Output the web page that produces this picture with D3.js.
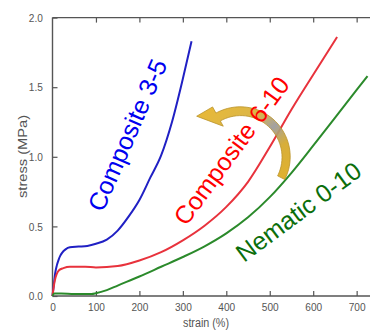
<!DOCTYPE html>
<html>
<head>
<meta charset="utf-8">
<script src="https://cdn.jsdelivr.net/npm/d3@7"></script>
<style>
  body { margin: 0; background: #fff; }
  svg { display: block; }
</style>
</head>
<body>
<script>
// strain (%) , stress (MPa)
const composite35 = [[0,0],[3,0.08],[6,0.16],[10,0.22],[14,0.26],[18,0.29],[22,0.31],[30,0.335],[40,0.35],[60,0.355],[80,0.36],[100,0.375],[125,0.405],[150,0.47],[175,0.57],[200,0.69],[225,0.85],[250,1.01],[275,1.25],[300,1.56],[320,1.83]];
const composite610 = [[0,0],[3,0.07],[6,0.12],[10,0.16],[15,0.185],[25,0.2],[40,0.21],[75,0.21],[100,0.205],[150,0.215],[200,0.255],[250,0.315],[300,0.40],[350,0.505],[400,0.64],[450,0.82],[500,1.07],[550,1.34],[600,1.59],[655,1.86]];
const nematic010 = [[0,0],[4,0.018],[20,0.018],[50,0.015],[90,0.015],[100,0.02],[125,0.042],[150,0.075],[200,0.14],[250,0.21],[300,0.28],[350,0.357],[400,0.45],[450,0.565],[500,0.71],[550,0.885],[600,1.08],[650,1.28],[700,1.48],[725,1.58]];

const xTicks = [0, 100, 200, 300, 400, 500, 600, 700];
const yTicks = [0, 0.5, 1.0, 1.5, 2.0];

const series = [
  { name: "Composite 3-5", data: composite35, line: "#2020c4", text: "#0000f0", at: [116, 0.596], angle: -66.5 },
  { name: "Composite 6-10", data: composite610, line: "#e8323c", text: "#ff0000", at: [308, 0.496], angle: -53.7 },
  { name: "Nematic 0-10", data: nematic010, line: "#2b8a2b", text: "#0b6e0b", at: [441, 0.237], angle: -36.6 }
];

const width = 370;
const height = 335;
const padLeft = 52.5, padTop = 17.6, axisY = 296;

const svg = d3.select("body").append("svg")
  .attr("width", width)
  .attr("height", height);

const x = d3.scaleLinear().domain([0, 800]).range([padLeft, padLeft + 347.6]);
const y = d3.scaleLinear().domain([0, 2]).range([axisY, padTop]);

const axisColor = "#555";

// axes with inward ticks
const gx = svg.append("g")
  .attr("transform", `translate(0,${axisY})`)
  .call(d3.axisBottom(x).tickValues(xTicks).tickSize(-5).tickPadding(7).tickSizeOuter(0));

const gTop = svg.append("g")
  .attr("transform", `translate(0,${padTop})`)
  .call(d3.axisTop(x).tickValues(xTicks.slice(1)).tickSize(-5).tickFormat("").tickSizeOuter(0));

const gy = svg.append("g")
  .attr("transform", `translate(${padLeft},0)`)
  .call(d3.axisLeft(y).tickValues(yTicks).tickSize(-5).tickPadding(11).tickFormat(d3.format(".1f")).tickSizeOuter(0));

[gx, gTop, gy].forEach(g => {
  g.select(".domain").attr("stroke", axisColor).attr("stroke-width", 1.4);
  g.selectAll(".tick line").attr("stroke", axisColor).attr("stroke-width", 1.2);
  g.selectAll(".tick text")
    .attr("fill", "#555")
    .style("font-family", "Liberation Sans, Arial, sans-serif")
    .style("font-size", "11.5px")
    .attr("transform", "scale(0.88,1)");
});
// lines run to the right edge of the picture
gTop.select(".domain").attr("d", `M${padLeft},0H${width}`);
gx.select(".domain").attr("d", `M${padLeft},0H${width}`);
gy.select(".domain").attr("d", `M0,${y(2)}V${y(0)}`);

// axis titles
svg.append("text")
  .attr("x", 206)
  .attr("y", 327)
  .attr("text-anchor", "middle")
  .attr("fill", "#555")
  .attr("textLength", 46)
  .attr("lengthAdjust", "spacingAndGlyphs")
  .style("font-family", "Liberation Sans, Arial, sans-serif")
  .style("font-size", "12.5px")
  .text("strain (%)");

svg.append("text")
  .attr("transform", `translate(27,156.5) rotate(-90)`)
  .attr("text-anchor", "middle")
  .attr("fill", "#555")
  .attr("textLength", 83)
  .attr("lengthAdjust", "spacingAndGlyphs")
  .style("font-family", "Liberation Sans, Arial, sans-serif")
  .style("font-size", "12.5px")
  .text("stress (MPa)");

// curves
const line = d3.line()
  .x(d => x(d[0]))
  .y(d => y(d[1]))
  .curve(d3.curveMonotoneX);

svg.selectAll(".curve")
  .data(series)
  .enter()
  .append("path")
  .attr("class", "curve")
  .attr("d", d => line(d.data))
  .attr("fill", "none")
  .attr("stroke", d => d.line)
  .attr("stroke-width", 2);

// curved gold arrow (centre placed in data units)
const defs = svg.append("defs");
const grad = defs.append("linearGradient")
  .attr("id", "arrowGrad")
  .attr("x1", "0").attr("y1", "0").attr("x2", "1").attr("y2", "1");
grad.append("stop").attr("offset", "0%").attr("stop-color", "#e8b424");
grad.append("stop").attr("offset", "38%").attr("stop-color", "#d9b03a");
grad.append("stop").attr("offset", "55%").attr("stop-color", "#9c9a9a");
grad.append("stop").attr("offset", "72%").attr("stop-color", "#d4a82a");
grad.append("stop").attr("offset", "100%").attr("stop-color", "#e0ac1c");

const cx = x(432), cy = y(1.0);
const rad = Math.PI / 180;
const pt = (r, a) => [cx + r * Math.cos(a * rad), cy + r * Math.sin(a * rad)];
const outerArc = d3.range(27, -119, -4).concat([-119]).map(a => pt(50, a));
const innerArc = d3.range(-119, 27, 4).concat([27]).map(a => pt(41 + (a + 119) / 146, a));
const headPts = [pt(57, -119), pt(59.5, -137), pt(35, -119)];
const arrowPts = outerArc.concat(headPts).concat(innerArc);

svg.append("path")
  .attr("d", "M" + arrowPts.map(p => p.join(",")).join("L") + "Z")
  .attr("fill", "url(#arrowGrad)")
  .attr("stroke", "#b58a18")
  .attr("stroke-width", 0.8)
  .attr("opacity", 0.92);

// rotated series labels
svg.selectAll(".label")
  .data(series)
  .enter()
  .append("text")
  .attr("class", "label")
  .attr("transform", d => `translate(${x(d.at[0])},${y(d.at[1])}) rotate(${d.angle})`)
  .attr("fill", d => d.text)
  .style("font-family", "Liberation Sans, Arial, sans-serif")
  .style("font-size", "25px")
  .text(d => d.name);
</script>
</body>
</html>
